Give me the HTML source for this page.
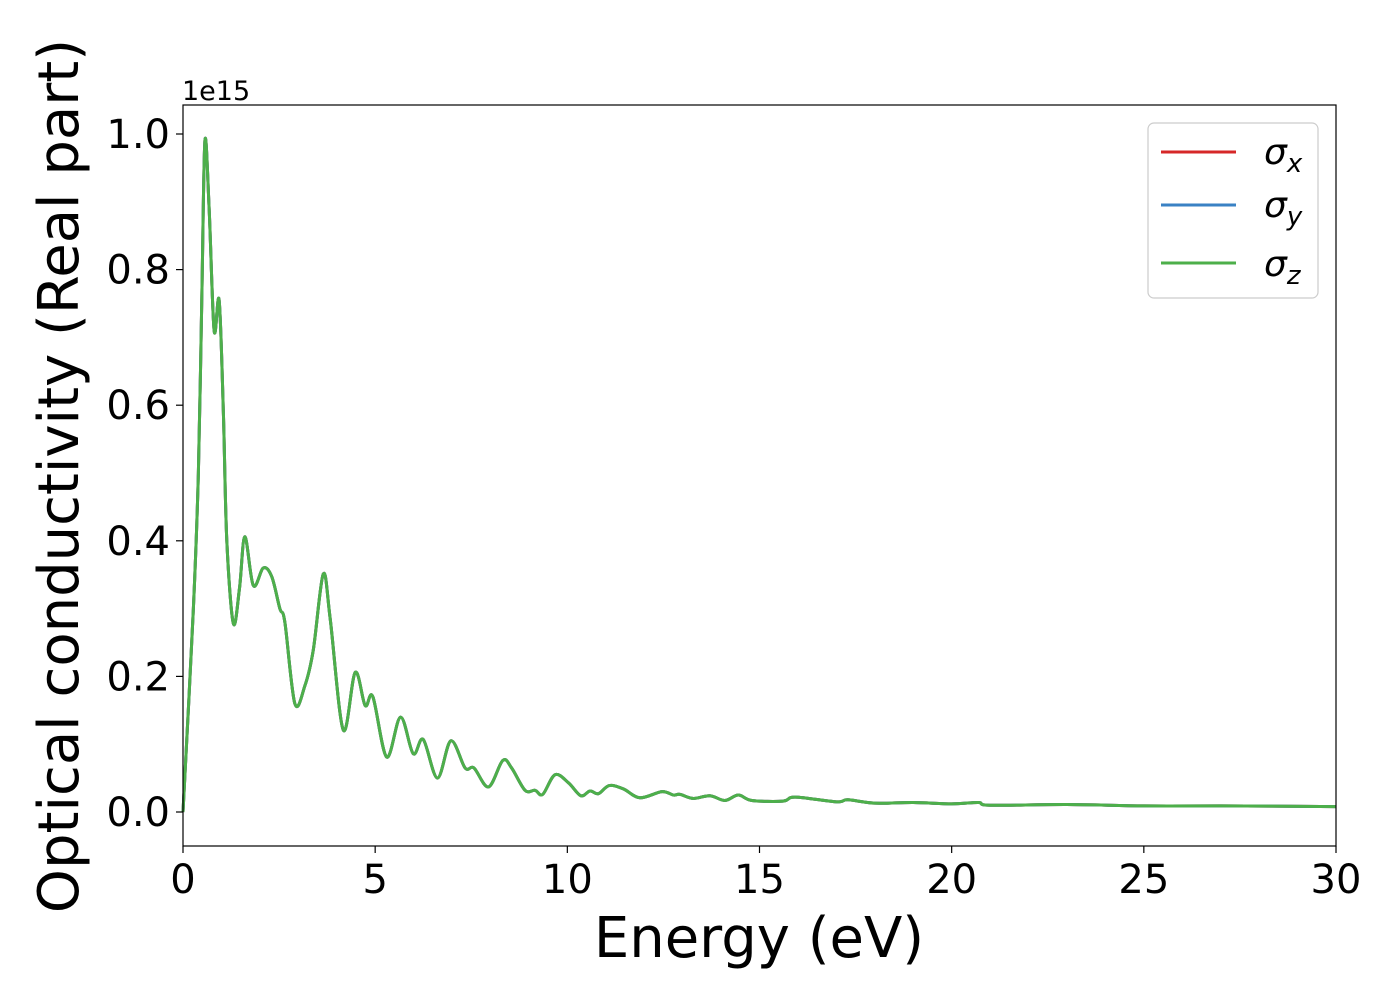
<!DOCTYPE html>
<html><head><meta charset="utf-8"><style>
html,body{margin:0;padding:0;background:#fff;}
svg{display:block;font-family:"DejaVu Sans","Liberation Sans",sans-serif;}
</style></head><body>
<svg id="chart" width="1400" height="1000" viewBox="0 0 1400 1000" xmlns="http://www.w3.org/2000/svg">
<rect x="183" y="105" width="1153" height="741" fill="#fff"/>
<g id="series"></g>
<rect x="183" y="105" width="1153" height="741" fill="none" stroke="#000" stroke-width="1.2"/>
<g id="xticks"></g>
<g id="yticks"></g>
<text x="182" y="100" font-size="27">1e15</text>
<text x="759" y="957" font-size="56" text-anchor="middle">Energy (eV)</text>
<text transform="translate(78,476) rotate(-90)" font-size="56" text-anchor="middle">Optical conductivity (Real part)</text>
<g>
<rect x="1148" y="123" width="170" height="175" rx="6" fill="#fff" fill-opacity="0.8" stroke="#ccc" stroke-width="1.2"/>
<line x1="1161" y1="152" x2="1236" y2="152" stroke="#d62728" stroke-width="3"/>
<text x="1264" y="164" font-size="36" font-style="italic">σ<tspan font-size="26" dy="8">x</tspan></text>
<line x1="1161" y1="205" x2="1236" y2="205" stroke="#3a82c4" stroke-width="3"/>
<text x="1264" y="217" font-size="36" font-style="italic">σ<tspan font-size="26" dy="8">y</tspan></text>
<line x1="1161" y1="263" x2="1236" y2="263" stroke="#4daf4a" stroke-width="3"/>
<text x="1264" y="276" font-size="36" font-style="italic">σ<tspan font-size="26" dy="8">z</tspan></text>
</g>
</svg>
<script>
const energy = [0,0.27,0.40,0.49,0.57,0.68,0.81,0.94,1.05,1.14,1.31,1.47,1.61,1.83,2.09,2.31,2.52,2.65,2.91,3.17,3.39,3.65,3.83,4.17,4.48,4.74,4.94,5.30,5.66,5.99,6.25,6.62,6.97,7.34,7.57,7.95,8.32,8.55,8.90,9.16,9.36,9.68,10.03,10.35,10.59,10.81,11.09,11.46,11.89,12.46,12.76,12.93,13.28,13.71,14.1,14.45,14.8,15.61,15.93,17.0,17.3,18.0,19.0,20.0,20.7,21.0,23.0,25.0,27.0,30.0];
const sigmaX = [0,0.30,0.50,0.76,0.99,0.89,0.71,0.755,0.59,0.40,0.278,0.33,0.406,0.334,0.36,0.347,0.30,0.28,0.16,0.186,0.239,0.351,0.285,0.121,0.206,0.157,0.17,0.081,0.14,0.086,0.107,0.050,0.105,0.065,0.065,0.037,0.076,0.065,0.032,0.032,0.026,0.055,0.043,0.024,0.031,0.027,0.039,0.034,0.021,0.030,0.025,0.026,0.020,0.024,0.017,0.025,0.017,0.016,0.022,0.015,0.018,0.013,0.014,0.012,0.014,0.010,0.011,0.009,0.009,0.008];
const sigmaY = sigmaX.slice();
const sigmaZ = sigmaX.slice();
const xTickLabels = ["0","5","10","15","20","25","30"];
const yTickLabels = ["0.0","0.2","0.4","0.6","0.8","1.0"];
const xTickValues = [0,5,10,15,20,25,30];
const yTickValues = [0,0.2,0.4,0.6,0.8,1.0];

const NS="http://www.w3.org/2000/svg";
function xs(v){return 183+(v/30)*1153;}
function ys(v){return 812-v*678;}
function mk(t,a){const e=document.createElementNS(NS,t);for(const k in a)e.setAttribute(k,a[k]);return e;}
function smoothPath(xv,yv){
  const p=xv.map((x,i)=>[xs(x),ys(yv[i])]);
  let d="M"+p[0][0]+","+p[0][1];
  for(let i=0;i<p.length-1;i++){
    const p0=p[Math.max(i-1,0)],p1=p[i],p2=p[i+1],p3=p[Math.min(i+2,p.length-1)];
    const c1=[p1[0]+(p2[0]-p0[0])/6,p1[1]+(p2[1]-p0[1])/6];
    const c2=[p2[0]-(p3[0]-p1[0])/6,p2[1]-(p3[1]-p1[1])/6];
    d+=" C"+c1[0]+","+c1[1]+" "+c2[0]+","+c2[1]+" "+p2[0]+","+p2[1];
  }
  return d;
}
const g=document.getElementById("series");
const defs=[["sigma-x-line",sigmaX,"#d62728"],["sigma-y-line",sigmaY,"#3a82c4"],["sigma-z-line",sigmaZ,"#4daf4a"]];
defs.forEach(s=>{
  const p=mk("path",{d:smoothPath(energy,s[1]),fill:"none",stroke:s[2],"stroke-width":3,"stroke-linejoin":"round"});
  
  
  g.appendChild(p);
});
const xg=document.getElementById("xticks");
xTickValues.forEach((v,i)=>{
  const l=mk("line",{x1:xs(v),y1:846,x2:xs(v),y2:853,stroke:"#000","stroke-width":1.2});
  
  
  xg.appendChild(l);
  const t=mk("text",{x:xs(v),y:893,"font-size":40,"text-anchor":"middle"});
  
  
  t.textContent=xTickLabels[i];xg.appendChild(t);
});
const yg=document.getElementById("yticks");
yTickValues.forEach((v,i)=>{
  const l=mk("line",{x1:176,y1:ys(v),x2:183,y2:ys(v),stroke:"#000","stroke-width":1.2});
  
  
  yg.appendChild(l);
  const t=mk("text",{x:170,y:ys(v)+14,"font-size":40,"text-anchor":"end"});
  
  
  t.textContent=yTickLabels[i];yg.appendChild(t);
});
</script>
</body></html>
